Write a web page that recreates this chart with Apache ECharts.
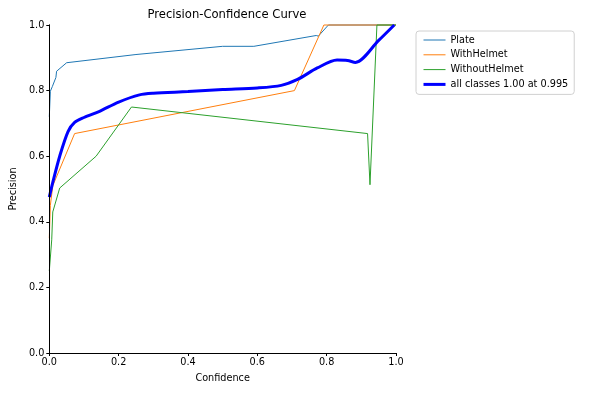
<!DOCTYPE html>
<html>
<head>
<meta charset="utf-8">
<script src="https://cdn.jsdelivr.net/npm/echarts@6/dist/echarts.min.js"></script>
<style>
  html, body { margin: 0; padding: 0; background: #fff; }
  #chart { width: 589px; height: 393px; }
</style>
</head>
<body>
<div id="chart"></div>
<script>
  // values
  var xTicks = [0, 0.2, 0.4, 0.6, 0.8, 1.0]
  var yTicks = [0, 0.2, 0.4, 0.6, 0.8, 1.0]

  var plateX = [0, 0.003, 0.009, 0.019, 0.021, 0.05, 0.25, 0.5, 0.59, 0.77, 0.776, 0.805, 1.0]
  var plateY = [0.72, 0.798, 0.813, 0.84, 0.859, 0.885, 0.91, 0.935, 0.935, 0.968, 0.966, 1.0, 1.0]

  var withHelmetX = [0, 0.003, 0.01, 0.073, 0.707, 0.792, 1.0]
  var withHelmetY = [0.35, 0.45, 0.51, 0.669, 0.80, 1.0, 1.0]

  var withoutHelmetX = [0, 0.007, 0.01, 0.03, 0.135, 0.237, 0.918, 0.925, 0.945, 1.0]
  var withoutHelmetY = [0.25, 0.345, 0.43, 0.503, 0.60, 0.75, 0.669, 0.513, 1.0, 1.0]

  var allX = [0, 0.01, 0.03, 0.054, 0.073, 0.1, 0.145, 0.2, 0.26, 0.3, 0.4, 0.5, 0.6, 0.669, 0.716, 0.773, 0.83, 0.86, 0.883, 0.95, 0.995]
  var allY = [0.475, 0.52, 0.6, 0.675, 0.703, 0.718, 0.737, 0.765, 0.787, 0.792, 0.797, 0.803, 0.808, 0.816, 0.834, 0.869, 0.893, 0.892, 0.886, 0.953, 1.0]

  const pairs = (xs, ys) => xs.map((x, i) => [x, ys[i]])

  var myChart = echarts.init(document.getElementById('chart'))
  var font = 'DejaVu Sans'
  var fs = 9.7

  // plain frame axes (top / right spines) drawn above the lines
  const spine = (pos) => ({
    type: 'value', min: 0, max: 1, position: pos, z: 10,
    axisLine: { show: true, lineStyle: { color: '#000' } },
    axisTick: { show: false }, axisLabel: { show: false }, splitLine: { show: false }
  })

  var option = {
    animation: false,
    textStyle: { fontFamily: font },
    title: {
      text: 'Precision-Confidence Curve',
      left: 222,
      textAlign: 'center',
      top: 4,
      textStyle: { fontSize: 11.6, fontWeight: 'normal', color: '#000', fontFamily: font }
    },
    legend: {
      orient: 'vertical',
      left: 416,
      top: 31,
      padding: [4, 6, 5, 6],
      itemGap: 4.8,
      itemWidth: 22,
      itemHeight: 8,
      borderColor: '#d0d0d0',
      borderWidth: 1,
      borderRadius: 3,
      itemStyle: { opacity: 0 },
      textStyle: { fontSize: fs, color: '#000', fontFamily: font },
      data: [
        { name: 'Plate', lineStyle: { width: 1 } },
        { name: 'WithHelmet', lineStyle: { width: 1 } },
        { name: 'WithoutHelmet', lineStyle: { width: 1 } },
        { name: 'all classes 1.00 at 0.995', lineStyle: { width: 3 } }
      ]
    },
    grid: {
      left: 46, right: 193, top: 25, bottom: 40,
      show: false
    },
    xAxis: [{
      type: 'value', min: 0, max: 1, interval: 0.2, z: 10,
      name: 'Confidence', nameLocation: 'middle', nameGap: 20,
      nameTextStyle: { fontSize: fs, color: '#000' },
      axisLine: { show: true, lineStyle: { color: '#000' } },
      axisTick: { show: true, length: 3, lineStyle: { color: '#000' } },
      axisLabel: { fontSize: fs, color: '#000', margin: 4, formatter: v => v.toFixed(1) },
      splitLine: { show: false }
    }, spine('top')],
    yAxis: [{
      type: 'value', min: 0, max: 1, interval: 0.2, z: 10,
      name: 'Precision', nameLocation: 'middle', nameGap: 27,
      nameTextStyle: { fontSize: fs, color: '#000' },
      axisLine: { show: true, lineStyle: { color: '#000' } },
      axisTick: { show: true, length: 3, lineStyle: { color: '#000' } },
      axisLabel: { fontSize: fs, color: '#000', margin: 5, formatter: v => v.toFixed(1) },
      splitLine: { show: false }
    }, spine('right')],
    series: [
      {
        name: 'Plate', type: 'line', symbol: 'none', clip: false,
        data: pairs(plateX, plateY),
        lineStyle: { width: 1, color: '#1f77b4' }, itemStyle: { color: '#1f77b4' }
      },
      {
        name: 'WithHelmet', type: 'line', symbol: 'none', clip: false,
        data: pairs(withHelmetX, withHelmetY),
        lineStyle: { width: 1, color: '#ff7f0e' }, itemStyle: { color: '#ff7f0e' }
      },
      {
        name: 'WithoutHelmet', type: 'line', symbol: 'none', clip: false,
        data: pairs(withoutHelmetX, withoutHelmetY),
        lineStyle: { width: 1, color: '#2ca02c' }, itemStyle: { color: '#2ca02c' }
      },
      {
        name: 'all classes 1.00 at 0.995', type: 'line', symbol: 'none', clip: false,
        smooth: 0.3,
        data: pairs(allX, allY),
        lineStyle: { width: 3, color: '#0000ff' }, itemStyle: { color: '#0000ff' }
      }
    ]
  }

  myChart.setOption(option)
</script>
</body>
</html>
